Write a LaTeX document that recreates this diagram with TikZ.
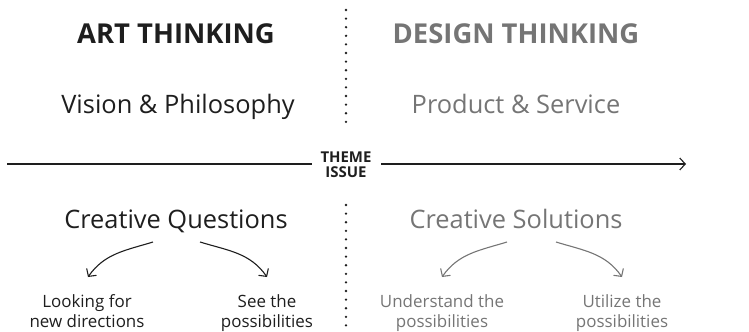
\documentclass[tikz,border=0pt]{standalone}
\usepackage{fontspec}
\setmainfont{Open Sans}
\usetikzlibrary{arrows.meta}
\definecolor{ink}{HTML}{1E1E1E}
\definecolor{gr}{HTML}{757575}
\tikzset{
  every node/.style={inner sep=0pt, outer sep=0pt},
  head/.style={font=\fontsize{27.5}{30}\selectfont\bfseries, anchor=base},
  sub/.style={font=\fontsize{25.5}{28}\selectfont, anchor=base},
  leaf/.style={font=\fontsize{17}{20}\selectfont, align=center, anchor=base},
  dots/.style={line width=2.6bp, line cap=round, dash pattern=on 0pt off 8.6bp},
  curv/.style={line width=1.1bp, -{Straight Barb[length=5.5bp,width=12bp]}},
}
\begin{document}
\begin{tikzpicture}[x=1bp,y=1bp]
\useasboundingbox (0,0) rectangle (749,-331);
% headings
\node[head, text=ink] (art) at (176,-43.5) {ART THINKING};
\node[head, text=gr] (des) at (516,-43.5) {DESIGN THINKING};
\node[sub, text=ink] (vis) at (178,-113) {Vision \& Philosophy};
\node[sub, text=gr] (prod) at (516,-113) {Product \& Service};
% theme line
\node[font=\fontsize{15}{15}\selectfont\bfseries, align=center, text=ink, anchor=base] (theme) at (346,-177) {THEME\\ISSUE};
\coordinate (lstart) at (7,-164);
\coordinate (lstop) at (312,-164);
\coordinate (rstart) at (381,-164);
\coordinate (rend) at (686,-164);
\draw[line width=1.1bp, ink] (lstart) -- (lstop);
\draw[line width=1.1bp, ink, -{Straight Barb[length=5.5bp,width=12bp]}] (rstart) -- (rend);
% dotted divider
\coordinate (d1) at (346,-10);
\coordinate (d2) at (346,-130);
\coordinate (d3) at (346,-205);
\coordinate (d4) at (346,-335);
\draw[dots, ink] (d1) -- (d2);
\draw[dots, ink] (d3) -- (d4);
% creative
\node[sub, text=ink] (cq) at (176,-228) {Creative Questions};
\node[sub, text=gr] (cs) at (516,-228) {Creative Solutions};
% leaves
\node[leaf, text=ink] (lf) at (87,-327) {Looking for\\new directions};
\node[leaf, text=ink] (st) at (267,-327) {See the\\possibilities};
\node[leaf, text=gr] (un) at (442,-327) {Understand the\\possibilities};
\node[leaf, text=gr] (ut) at (622,-327) {Utilize the\\possibilities};
% arrow end points
\coordinate (a1s) at (153,-242); \coordinate (a1e) at (88,-277);
\coordinate (a2s) at (200,-242); \coordinate (a2e) at (267,-277);
\coordinate (a3s) at (507,-242); \coordinate (a3e) at (442,-277);
\coordinate (a4s) at (556,-242); \coordinate (a4e) at (622,-277);
\draw[curv, ink] (a1s) to[out=197,in=55] (a1e);
\draw[curv, ink] (a2s) to[out=-17,in=125] (a2e);
\draw[curv, gr] (a3s) to[out=197,in=55] (a3e);
\draw[curv, gr] (a4s) to[out=-17,in=125] (a4e);
\end{tikzpicture}
\end{document}
